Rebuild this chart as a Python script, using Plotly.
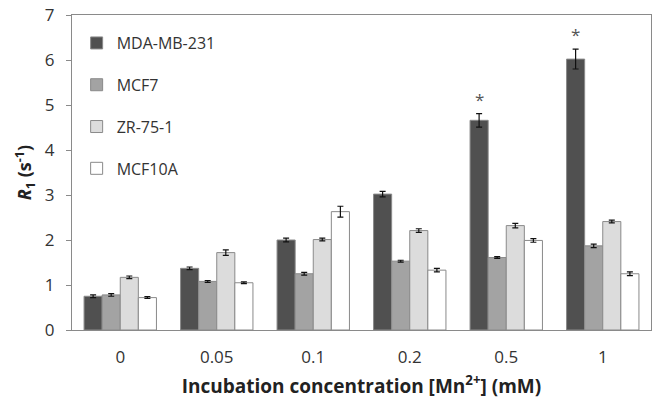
import plotly.graph_objects as go

categories = ["0", "0.05", "0.1", "0.2", "0.5", "1"]
series_names = ["MDA-MB-231", "MCF7", "ZR-75-1", "MCF10A"]
mda = [0.75, 1.37, 2.00, 3.02, 4.66, 6.02]
mcf7 = [0.78, 1.08, 1.25, 1.53, 1.61, 1.87]
zr = [1.17, 1.72, 2.01, 2.21, 2.32, 2.41]
mcf10a = [0.72, 1.05, 2.63, 1.33, 1.99, 1.25]
mda_err = [0.03, 0.03, 0.04, 0.06, 0.15, 0.22]
mcf7_err = [0.03, 0.02, 0.03, 0.02, 0.02, 0.04]
zr_err = [0.03, 0.06, 0.03, 0.04, 0.05, 0.03]
mcf10a_err = [0.02, 0.02, 0.12, 0.04, 0.04, 0.04]
star_categories = ["0.5", "1"]

values = [mda, mcf7, zr, mcf10a]
errors = [mda_err, mcf7_err, zr_err, mcf10a_err]
colors = ["#505050", "#a3a3a3", "#dcdcdc", "#ffffff"]

fig = go.Figure()
for i, (name, v, e, c) in enumerate(zip(series_names, values, errors, colors)):
    fig.add_trace(go.Bar(
        x=categories, y=v, name=name, legendgroup=name,
        marker=dict(color=c, line=dict(color="#8a8a8a", width=1)),
        error_y=dict(type="data", array=e, color="#111111", thickness=1.2, width=3),
    ))

bargap = 0.25
bw = (1 - bargap) / 4
for cat in star_categories:
    idx = categories.index(cat)
    fig.add_annotation(
        x=idx - 1.5 * bw, y=mda[idx] + mda_err[idx], xref="x", yref="y",
        text="*", showarrow=False, yanchor="bottom", yshift=1,
        font=dict(family="Open Sans", size=17, color="#555555"),
    )

fig.update_layout(
    width=653, height=404,
    margin=dict(l=72, r=2, t=15, b=74),
    paper_bgcolor="white", plot_bgcolor="white",
    barmode="group", bargap=bargap, bargroupgap=0,
    font=dict(family="Open Sans", color="#333333"),
    legend=dict(x=0.008, y=0.965, xanchor="left", yanchor="top",
                font=dict(size=16, color="#333333"), tracegroupgap=18,
                itemwidth=30, bgcolor="rgba(0,0,0,0)"),
    showlegend=True,
)
fig.update_xaxes(
    type="category", showline=True, linecolor="#8a8a8a", mirror=True,
    ticks="", ticklabelstandoff=12, tickfont=dict(size=17, color="#333333"),
    title=dict(text="<b>Incubation concentration [Mn<sup>2+</sup>] (mM)</b>",
               font=dict(size=19, color="#222222"), standoff=12),
)
fig.update_yaxes(
    range=[0, 7], dtick=1, showline=True, linecolor="#8a8a8a", mirror=True,
    ticks="outside", ticklen=5, tickcolor="#8a8a8a", showgrid=False,
    ticklabelstandoff=8, tickfont=dict(size=17, color="#333333"),
    title=dict(text="<b><i>R</i><sub>1</sub> (s<sup>-1</sup>)</b>",
               font=dict(size=18, color="#222222"), standoff=8),
)
fig.write_html("out.html", post_script="document.body.style.margin='0';",
               config={"displayModeBar": False})
